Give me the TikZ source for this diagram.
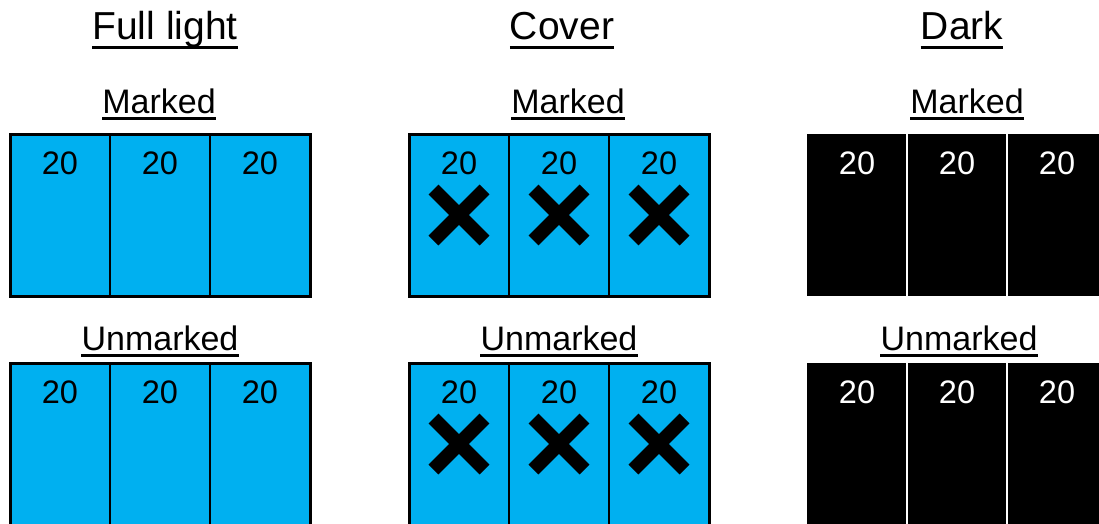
\documentclass[tikz,border=0pt]{standalone}
\usepackage{fontspec}
\setmainfont{Liberation Sans}
\usetikzlibrary{positioning,shapes.misc}
\definecolor{panelblue}{HTML}{00B0F0}
\tikzset{
	title/.style={font=\fontsize{39}{42}\selectfont, inner sep=0pt, anchor=base},
	sublabel/.style={font=\fontsize{34}{38}\selectfont, inner sep=0pt, anchor=base},
	num/.style={font=\fontsize{32.5}{36}\selectfont, inner sep=0pt, anchor=base},
	bluecell/.style={fill=panelblue, draw=black, line width=1.8pt, minimum width=100pt, minimum height=162pt, inner sep=0pt, outer sep=0pt},
	darkcell/.style={fill=black, minimum width=100pt, minimum height=162pt, inner sep=0pt, outer sep=0pt},
	xmark/.style={cross out, draw=black, line width=14pt, minimum size=37pt, inner sep=0pt},
	uline/.style={line width=3pt}
}
\begin{document}
\begin{tikzpicture}[x=1pt, y=-1pt]
	\useasboundingbox (0,0) rectangle (1099,523);
	\clip (0,0) rectangle (1099,523);
	\fill[white] (0,0) rectangle (1099,523);
	%見出し
	\node[title] (t-full) at (165,39) {Full light};
	\node[title] (t-cover) at (562,39) {Cover};
	\node[title] (t-dark) at (962,39) {Dark};
	\draw[uline] ([yshift=-8pt]t-full.base west)--([yshift=-8pt]t-full.base east);
	\draw[uline] ([yshift=-8pt]t-cover.base west)--([yshift=-8pt]t-cover.base east);
	\draw[uline] ([yshift=-8pt]t-dark.base west)--([yshift=-8pt]t-dark.base east);
	%Marked
	\node[sublabel] (m-full) at (159,113) {Marked};
	\node[sublabel] (m-cover) at (568,113) {Marked};
	\node[sublabel] (m-dark) at (967,113) {Marked};
	\draw[uline] ([yshift=-5pt]m-full.base west)--([yshift=-5pt]m-full.base east);
	\draw[uline] ([yshift=-5pt]m-cover.base west)--([yshift=-5pt]m-cover.base east);
	\draw[uline] ([yshift=-5pt]m-dark.base west)--([yshift=-5pt]m-dark.base east);
	%Unmarked
	\node[sublabel] (u-full) at (160,350) {Unmarked};
	\node[sublabel] (u-cover) at (559,350) {Unmarked};
	\node[sublabel] (u-dark) at (959,350) {Unmarked};
	\draw[uline] ([yshift=-5pt]u-full.base west)--([yshift=-5pt]u-full.base east);
	\draw[uline] ([yshift=-5pt]u-cover.base west)--([yshift=-5pt]u-cover.base east);
	\draw[uline] ([yshift=-5pt]u-dark.base west)--([yshift=-5pt]u-dark.base east);
	%Full light, marked
	\node[bluecell, anchor=north west] (fm-a) at (10,134) {};
	\node[bluecell, right=0pt of fm-a] (fm-b) {};
	\node[bluecell, right=0pt of fm-b] (fm-c) {};
	\draw[line width=3pt] (fm-a.north west) rectangle (fm-c.south east);
	\node[num] (fm-a-n) at ([yshift=-40pt]fm-a.north) {20};
	\node[num] (fm-b-n) at ([yshift=-40pt]fm-b.north) {20};
	\node[num] (fm-c-n) at ([yshift=-40pt]fm-c.north) {20};
	%Full light, unmarked
	\node[bluecell, anchor=north west] (fu-a) at (10,363) {};
	\node[bluecell, right=0pt of fu-a] (fu-b) {};
	\node[bluecell, right=0pt of fu-b] (fu-c) {};
	\draw[line width=3pt] (fu-a.north west) rectangle (fu-c.south east);
	\node[num] (fu-a-n) at ([yshift=-40pt]fu-a.north) {20};
	\node[num] (fu-b-n) at ([yshift=-40pt]fu-b.north) {20};
	\node[num] (fu-c-n) at ([yshift=-40pt]fu-c.north) {20};
	%Cover, marked
	\node[bluecell, anchor=north west] (cm-a) at (409,134) {};
	\node[bluecell, right=0pt of cm-a] (cm-b) {};
	\node[bluecell, right=0pt of cm-b] (cm-c) {};
	\draw[line width=3pt] (cm-a.north west) rectangle (cm-c.south east);
	\node[num] (cm-a-n) at ([yshift=-40pt]cm-a.north) {20};
	\node[num] (cm-b-n) at ([yshift=-40pt]cm-b.north) {20};
	\node[num] (cm-c-n) at ([yshift=-40pt]cm-c.north) {20};
	\node[xmark] (cm-a-x) at (cm-a.center) {};
	\node[xmark] (cm-b-x) at (cm-b.center) {};
	\node[xmark] (cm-c-x) at (cm-c.center) {};
	%Cover, unmarked
	\node[bluecell, anchor=north west] (cu-a) at (409,363) {};
	\node[bluecell, right=0pt of cu-a] (cu-b) {};
	\node[bluecell, right=0pt of cu-b] (cu-c) {};
	\draw[line width=3pt] (cu-a.north west) rectangle (cu-c.south east);
	\node[num] (cu-a-n) at ([yshift=-40pt]cu-a.north) {20};
	\node[num] (cu-b-n) at ([yshift=-40pt]cu-b.north) {20};
	\node[num] (cu-c-n) at ([yshift=-40pt]cu-c.north) {20};
	\node[xmark] (cu-a-x) at (cu-a.center) {};
	\node[xmark] (cu-b-x) at (cu-b.center) {};
	\node[xmark] (cu-c-x) at (cu-c.center) {};
	%Dark, marked
	\node[darkcell, anchor=north west] (dm-a) at (807,134) {};
	\node[darkcell, right=0pt of dm-a] (dm-b) {};
	\node[darkcell, right=0pt of dm-b] (dm-c) {};
	\draw[white, line width=2pt] (dm-a.north east)--(dm-a.south east);
	\draw[white, line width=2pt] (dm-b.north east)--(dm-b.south east);
	\node[num, white] (dm-a-n) at ([yshift=-40pt]dm-a.north) {20};
	\node[num, white] (dm-b-n) at ([yshift=-40pt]dm-b.north) {20};
	\node[num, white] (dm-c-n) at ([yshift=-40pt]dm-c.north) {20};
	%Dark, unmarked
	\node[darkcell, anchor=north west] (du-a) at (807,363) {};
	\node[darkcell, right=0pt of du-a] (du-b) {};
	\node[darkcell, right=0pt of du-b] (du-c) {};
	\draw[white, line width=2pt] (du-a.north east)--(du-a.south east);
	\draw[white, line width=2pt] (du-b.north east)--(du-b.south east);
	\node[num, white] (du-a-n) at ([yshift=-40pt]du-a.north) {20};
	\node[num, white] (du-b-n) at ([yshift=-40pt]du-b.north) {20};
	\node[num, white] (du-c-n) at ([yshift=-40pt]du-c.north) {20};
\end{tikzpicture}
\end{document}
